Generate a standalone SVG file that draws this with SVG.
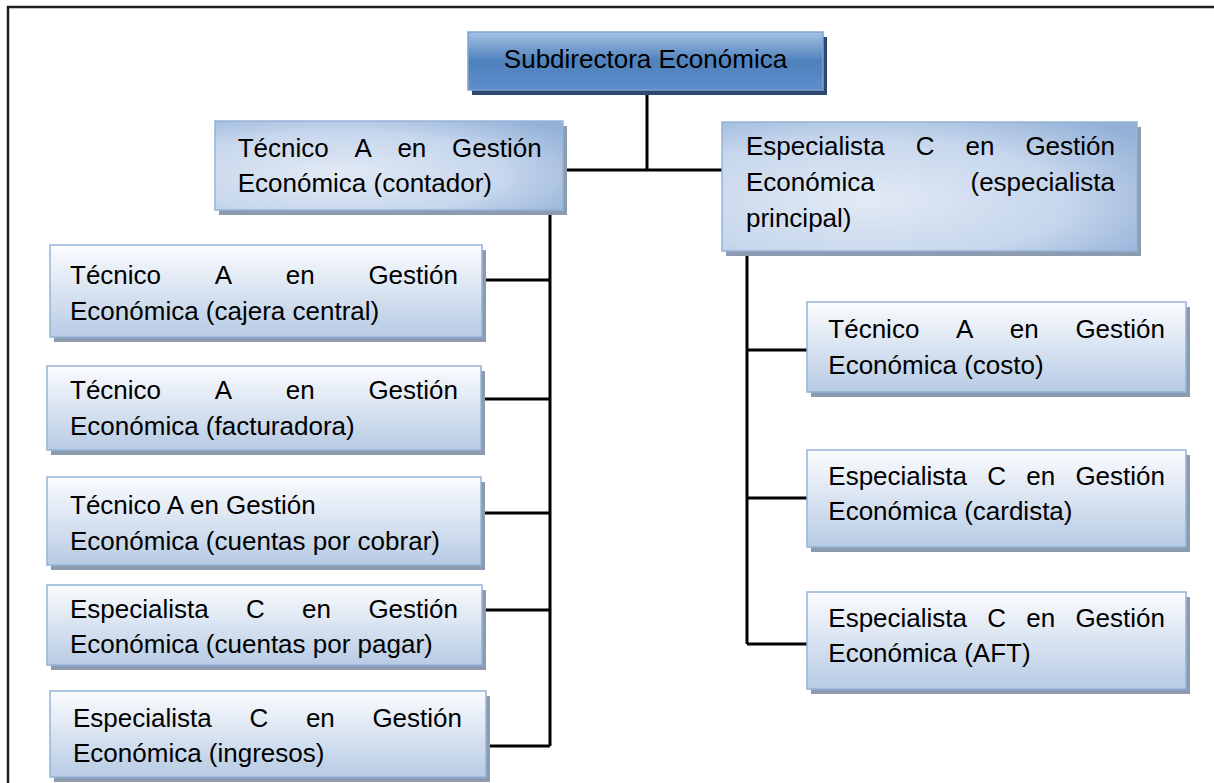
<svg xmlns="http://www.w3.org/2000/svg" width="1214" height="783" viewBox="0 0 1214 783">
  <defs>
    <linearGradient id="gTop" x1="0" y1="0" x2="0" y2="1">
      <stop offset="0" stop-color="#a6c2e4"/>
      <stop offset="0.5" stop-color="#4f81bd"/>
      <stop offset="1" stop-color="#5e8dcb"/>
    </linearGradient>
    <linearGradient id="gLight" x1="0" y1="0" x2="0" y2="1">
      <stop offset="0" stop-color="#fbfcfe"/>
      <stop offset="1" stop-color="#b7cbe4"/>
    </linearGradient>
    <radialGradient id="gMid" cx="0.35" cy="0.6" r="0.8">
      <stop offset="0" stop-color="#e2eaf5"/>
      <stop offset="0.6" stop-color="#c6d6ec"/>
      <stop offset="1" stop-color="#94b2d8"/>
    </radialGradient>
    <style>
      .frame { fill: none; stroke: #1e1e1e; stroke-width: 2.5; }
      .sh { fill: #8d9bb0; }
      .shTop { fill: #2e4a72; }
      .boxTop { fill: url(#gTop); stroke: #7ea3d0; stroke-width: 1.5; }
      .box { fill: url(#gLight); stroke: #95b3d7; stroke-width: 1.5; }
      .boxMid { fill: url(#gMid); stroke: #95b3d7; stroke-width: 1.5; }
      .t { font-family: "Liberation Sans", Arial, sans-serif; font-size: 26px; fill: #000; }
      .c { text-anchor: middle; }
      .e { text-anchor: end; }
      .conn { fill: none; stroke: #000; stroke-width: 3; }
    </style>
  </defs>

  <rect width="1214" height="783" fill="#ffffff"/>
  <!-- page frame -->
  <path class="frame" d="M8,783 V7 H1214"/>

  <!-- connectors -->
  <g id="connectors">
    <path class="conn" d="M647,90 V170"/>
    <path class="conn" d="M563,170 H722"/>
    <path class="conn" d="M550,213 V746"/>
    <path class="conn" d="M482,280 H550"/>
    <path class="conn" d="M481,399 H550"/>
    <path class="conn" d="M481,513 H550"/>
    <path class="conn" d="M482,610 H550"/>
    <path class="conn" d="M486,746 H550"/>
    <path class="conn" d="M747,253 V644"/>
    <path class="conn" d="M747,350 H807"/>
    <path class="conn" d="M747,498 H807"/>
    <path class="conn" d="M747,644 H807"/>
  </g>

  <g id="subdirectora">
    <rect class="shTop" x="472" y="37" width="355" height="58"/>
    <rect class="boxTop" x="468" y="32" width="355" height="58"/>
    <text class="t c" x="645.5" y="68">Subdirectora Económica</text>
  </g>

  <g id="contador">
    <rect class="sh" x="219" y="126" width="348" height="89"/>
    <rect class="boxMid" x="215" y="121" width="348" height="89"/>
    <text class="t"><tspan x="237.7" y="157">Técnico</tspan><tspan x="354.4" y="157">A</tspan><tspan x="397.4" y="157">en</tspan><tspan class="e" x="541.7" y="157">Gestión</tspan></text>
    <text class="t" x="237.7" y="192">Económica (contador)</text>
  </g>

  <g id="especialista-principal">
    <rect class="sh" x="726" y="127" width="415" height="129"/>
    <rect class="boxMid" x="722" y="122" width="415" height="129"/>
    <text class="t"><tspan x="746" y="155">Especialista</tspan><tspan x="915.7" y="155">C</tspan><tspan x="965.5" y="155">en</tspan><tspan class="e" x="1115" y="155">Gestión</tspan></text>
    <text class="t"><tspan x="746" y="191">Económica</tspan><tspan class="e" x="1115" y="191">(especialista</tspan></text>
    <text class="t" x="746" y="227">principal)</text>
  </g>

  <g id="cajera">
    <rect class="sh" x="54" y="250" width="432" height="92"/>
    <rect class="box" x="50" y="245" width="432" height="92"/>
    <text class="t"><tspan x="70" y="284">Técnico</tspan><tspan x="214.7" y="284">A</tspan><tspan x="285.8" y="284">en</tspan><tspan class="e" x="458" y="284">Gestión</tspan></text>
    <text class="t" x="70" y="320">Económica (cajera central)</text>
  </g>

  <g id="facturadora">
    <rect class="sh" x="51" y="371" width="434" height="84"/>
    <rect class="box" x="47" y="366" width="434" height="84"/>
    <text class="t"><tspan x="70" y="399">Técnico</tspan><tspan x="214.7" y="399">A</tspan><tspan x="285.8" y="399">en</tspan><tspan class="e" x="458" y="399">Gestión</tspan></text>
    <text class="t" x="70" y="435">Económica (facturadora)</text>
  </g>

  <g id="cuentas-cobrar">
    <rect class="sh" x="51" y="482" width="434" height="88"/>
    <rect class="box" x="47" y="477" width="434" height="88"/>
    <text class="t" x="70" y="514">Técnico A en Gestión</text>
    <text class="t" x="70" y="550">Económica (cuentas por cobrar)</text>
  </g>

  <g id="cuentas-pagar">
    <rect class="sh" x="51" y="590" width="435" height="80"/>
    <rect class="box" x="47" y="585" width="435" height="80"/>
    <text class="t"><tspan x="70" y="618">Especialista</tspan><tspan x="246" y="618">C</tspan><tspan x="302.1" y="618">en</tspan><tspan class="e" x="458" y="618">Gestión</tspan></text>
    <text class="t" x="70" y="653">Económica (cuentas por pagar)</text>
  </g>

  <g id="ingresos">
    <rect class="sh" x="54" y="696" width="436" height="86"/>
    <rect class="box" x="50" y="691" width="436" height="86"/>
    <text class="t"><tspan x="73" y="727">Especialista</tspan><tspan x="249.4" y="727">C</tspan><tspan x="305.9" y="727">en</tspan><tspan class="e" x="462" y="727">Gestión</tspan></text>
    <text class="t" x="73" y="762">Económica (ingresos)</text>
  </g>

  <g id="costo">
    <rect class="sh" x="811" y="307" width="379" height="90"/>
    <rect class="box" x="807" y="302" width="379" height="90"/>
    <text class="t"><tspan x="828.3" y="338">Técnico</tspan><tspan x="955.9" y="338">A</tspan><tspan x="1009.8" y="338">en</tspan><tspan class="e" x="1165" y="338">Gestión</tspan></text>
    <text class="t" x="828.3" y="374">Económica (costo)</text>
  </g>

  <g id="cardista">
    <rect class="sh" x="811" y="455" width="379" height="97"/>
    <rect class="box" x="807" y="450" width="379" height="97"/>
    <text class="t"><tspan x="828.3" y="485">Especialista</tspan><tspan x="987.2" y="485">C</tspan><tspan x="1026.2" y="485">en</tspan><tspan class="e" x="1165" y="485">Gestión</tspan></text>
    <text class="t" x="828.3" y="520">Económica (cardista)</text>
  </g>

  <g id="aft">
    <rect class="sh" x="811" y="597" width="379" height="97"/>
    <rect class="box" x="807" y="592" width="379" height="97"/>
    <text class="t"><tspan x="828.3" y="627">Especialista</tspan><tspan x="987.2" y="627">C</tspan><tspan x="1026.2" y="627">en</tspan><tspan class="e" x="1165" y="627">Gestión</tspan></text>
    <text class="t" x="828.3" y="662">Económica (AFT)</text>
  </g>
</svg>
